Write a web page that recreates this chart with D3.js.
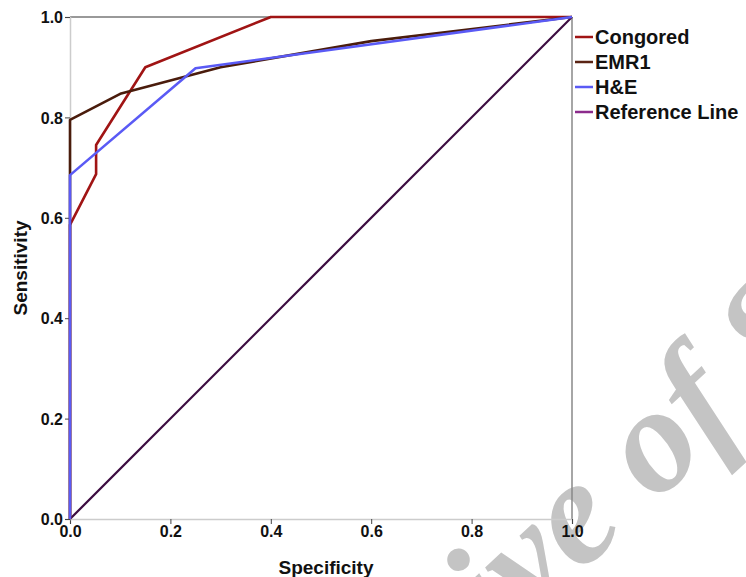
<!DOCTYPE html>
<html>
<head>
<meta charset="utf-8">
<script src="https://cdn.jsdelivr.net/npm/d3@7"></script>
<style>
  body { margin: 0; background: #fff; }
  svg { display: block; font-family: 'Liberation Sans', Arial, sans-serif; }
  .tick text { font-weight: bold; font-size: 16px; fill: #111; }
</style>
</head>
<body>
<div id="chart"></div>
<script>
var width = 746,
    height = 577,
    x0 = 70, x1 = 572,
    y0 = 519, y1 = 17;

// ROC curves: [specificity axis value, sensitivity]
var seriesNames = ['Congored', 'EMR1', 'H&E', 'Reference Line'];
var seriesColors = ['#a01414', '#4a1c0c', '#5a5af5', '#3c0c40'];
var legendColors = ['#a01414', '#5a2414', '#5a5af5', '#8c2c8c'];

var congoredX = [0, 0, 0.052, 0.052, 0.15, 0.4, 1];
var congoredY = [0, 0.586, 0.687, 0.745, 0.9, 1, 1];
var emr1X = [0, 0, 0.1, 0.3, 0.6, 1];
var emr1Y = [0, 0.795, 0.847, 0.9, 0.952, 1];
var heX = [0, 0, 0.25, 1];
var heY = [0, 0.685, 0.898, 1];
var refX = [0, 1];
var refY = [0, 1];

var tickValues = [0, 0.2, 0.4, 0.6, 0.8, 1.0];

var svg = d3.select('#chart')
  .append('svg')
  .attr('width', width)
  .attr('height', height);

var xScale = d3.scaleLinear().domain([0, 1]).range([x0, x1]);
var yScale = d3.scaleLinear().domain([0, 1]).range([y0, y1]);

// watermark
var wm = svg.append('g')
  .attr('transform', 'translate(500,648) rotate(-43)');
var probe = wm.append('text')
  .attr('font-family', 'Liberation Serif, serif')
  .attr('font-weight', 'bold')
  .attr('font-style', 'italic')
  .attr('font-size', 150)
  .text('Arch');
var off = probe.node().getComputedTextLength();
probe.remove();
wm.append('text')
  .attr('x', -off)
  .attr('font-family', 'Liberation Serif, serif')
  .attr('font-weight', 'bold')
  .attr('font-style', 'italic')
  .attr('font-size', 150)
  .attr('fill', '#c4c4c4')
  .text('Archive of SID');

// frame
svg.append('line')
  .attr('x1', x0).attr('x2', x1).attr('y1', y1).attr('y2', y1)
  .attr('stroke', '#777').attr('stroke-width', 1.5);
svg.append('line')
  .attr('x1', x1).attr('x2', x1).attr('y1', y1).attr('y2', y0)
  .attr('stroke', '#888').attr('stroke-width', 1.5);

var xAxis = d3.axisBottom(xScale)
  .tickValues(tickValues)
  .tickFormat(d3.format('.1f'))
  .tickSize(5)
  .tickPadding(2);

var xAxisGroup = svg.append('g')
  .attr('transform', 'translate(0,' + y0 + ')')
  .call(xAxis);
xAxisGroup.select('.domain').attr('stroke', '#ccc').attr('stroke-width', 1.5);
xAxisGroup.selectAll('.tick line').attr('stroke', '#444');

var yAxis = d3.axisLeft(yScale)
  .tickValues(tickValues)
  .tickFormat(d3.format('.1f'))
  .tickSize(5)
  .tickPadding(2);

var yAxisGroup = svg.append('g')
  .attr('transform', 'translate(' + x0 + ',0)')
  .call(yAxis);
yAxisGroup.select('.domain').attr('stroke', '#ccc').attr('stroke-width', 1.5);
yAxisGroup.selectAll('.tick line').attr('stroke', '#444');
yAxisGroup.selectAll('.tick text').attr('dy', '0.36em');

// axis titles
svg.append('text')
  .attr('x', (x0 + x1) / 2 + 5)
  .attr('y', 574)
  .attr('text-anchor', 'middle')
  .attr('font-weight', 'bold')
  .attr('font-size', 19)
  .attr('fill', '#111')
  .text('Specificity');

svg.append('text')
  .attr('transform', 'translate(27,' + ((y0 + y1) / 2) + ') rotate(-90)')
  .attr('text-anchor', 'middle')
  .attr('font-weight', 'bold')
  .attr('font-size', 19)
  .attr('fill', '#111')
  .text('Sensitivity');

// curves
var line = d3.line()
  .x(function(d) { return xScale(d[0]); })
  .y(function(d) { return yScale(d[1]); });

function zip(xs, ys) {
  return xs.map(function(v, i) { return [v, ys[i]]; });
}

var curves = [
  { data: zip(refX, refY), color: seriesColors[3], w: 2.2 },
  { data: zip(congoredX, congoredY), color: seriesColors[0], w: 2.6 },
  { data: zip(emr1X, emr1Y), color: seriesColors[1], w: 2.6 },
  { data: zip(heX, heY), color: seriesColors[2], w: 2.6 }
];

svg.selectAll('path.curve')
  .data(curves)
  .enter()
  .append('path')
  .attr('class', 'curve')
  .attr('d', function(d) { return line(d.data); })
  .attr('fill', 'none')
  .attr('stroke', function(d) { return d.color; })
  .attr('stroke-width', function(d) { return d.w; })
  .attr('stroke-linejoin', 'round');

// legend
var legend = svg.append('g').attr('transform', 'translate(575,37)');
var items = legend.selectAll('g')
  .data(seriesNames)
  .enter()
  .append('g')
  .attr('transform', function(d, i) { return 'translate(0,' + (i * 25) + ')'; });

items.append('line')
  .attr('x1', 0).attr('x2', 18)
  .attr('y1', 0).attr('y2', 0)
  .attr('stroke', function(d, i) { return legendColors[i]; })
  .attr('stroke-width', 2.5);

items.append('text')
  .attr('x', 20)
  .attr('dy', '0.36em')
  .attr('font-weight', 'bold')
  .attr('font-size', 20)
  .attr('fill', '#111')
  .text(function(d) { return d; });
</script>
</body>
</html>
